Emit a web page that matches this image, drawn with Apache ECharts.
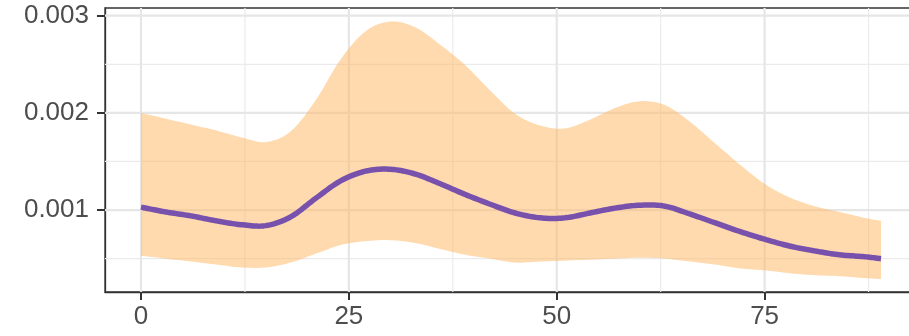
<!DOCTYPE html>
<html><head><meta charset="utf-8">
<script src="https://cdn.jsdelivr.net/npm/echarts@6/dist/echarts.min.js"></script>
<style>html,body{margin:0;padding:0;background:#fff}#c{width:909px;height:336px}</style>
</head><body><div id="c"></div><script>
const xs    = [0, 3, 6, 9, 12, 15, 18, 21, 24, 27, 30, 33, 36, 39, 42, 45, 48, 51, 54, 57, 60, 63, 66, 69, 72, 75, 78, 81, 84, 87, 89];
const upper = [0.00200,0.00194,0.00188,0.00182,0.00175,0.00170,0.00181,0.00213,0.00255,0.00284,0.00294,0.00288,0.00270,0.00249,0.00223,0.00199,0.00187,0.00184,0.00193,0.00205,0.00212,0.00208,0.00191,0.00169,0.00147,0.00127,0.00113,0.00104,0.00098,0.00092,0.00089];
const mean  = [0.00103,0.00098,0.00094,0.00089,0.00085,0.00084,0.00093,0.00112,0.00130,0.00140,0.00142,0.00137,0.00127,0.00116,0.00106,0.00097,0.00092,0.00092,0.00097,0.00102,0.00105,0.00104,0.00096,0.00087,0.00078,0.00070,0.00063,0.00058,0.00054,0.00052,0.00050];
const lower = [0.00053,0.00050,0.00047,0.00044,0.00041,0.00041,0.00046,0.00055,0.00064,0.00068,0.00069,0.00066,0.00060,0.00054,0.00050,0.00046,0.00047,0.00048,0.00049,0.00050,0.00051,0.00050,0.00047,0.00044,0.00040,0.00038,0.00035,0.00033,0.00032,0.00030,0.00029];
const xTicks = [0, 25, 50, 75];
const xMinor = [12.5, 37.5, 62.5, 87.5];
const yTicks = [0.001, 0.002, 0.003];
const yMinor = [0.0005, 0.0015, 0.0025];

const chart = echarts.init(document.getElementById('c'), null, {renderer: 'canvas'});
const font = 'Liberation Sans, Arial, sans-serif';

// Catmull-Rom sampling of pixel points (rendering only)
function spline(pts) {
  const out = [pts[0]];
  for (let i = 0; i < pts.length - 1; i++) {
    const p0 = pts[i - 1] || pts[i], p1 = pts[i], p2 = pts[i + 1], p3 = pts[i + 2] || pts[i + 1];
    for (let k = 1; k <= 12; k++) {
      const t = k / 12, t2 = t * t, t3 = t2 * t;
      const f = (a, b, c, d) => 0.5 * (2 * b + (-a + c) * t + (2 * a - 5 * b + 4 * c - d) * t2 + (-a + 3 * b - 3 * c + d) * t3);
      out.push([f(p0[0], p1[0], p2[0], p3[0]), f(p0[1], p1[1], p2[1], p3[1])]);
    }
  }
  return out;
}

function gridItem(api, params) {
  const cs = params.coordSys;
  const children = [];
  const add = (v, isX, w, c) => {
    if (isX) {
      const x = api.coord([v, 0.002])[0];
      children.push({type: 'line', shape: {x1: x, y1: cs.y, x2: x, y2: cs.y + cs.height}, style: {stroke: c, lineWidth: w}});
    } else {
      const y = api.coord([0, v])[1];
      children.push({type: 'line', shape: {x1: cs.x, y1: y, x2: cs.x + cs.width, y2: y}, style: {stroke: c, lineWidth: w}});
    }
  };
  xMinor.forEach(v => add(v, true, 1.2, '#EBEBEB'));
  yMinor.forEach(v => add(v, false, 1.2, '#EBEBEB'));
  xTicks.forEach(v => add(v, true, 2.2, '#E6E6E6'));
  yTicks.forEach(v => add(v, false, 2.2, '#E6E6E6'));
  return {type: 'group', children};
}

chart.setOption({
  animation: false,
  backgroundColor: '#ffffff',
  grid: {left: 105, right: -9, top: 8, bottom: 44, containLabel: false, outerBoundsMode: 'none',
         show: true, borderColor: '#333333', borderWidth: 1.3, backgroundColor: 'transparent'},
  xAxis: {
    type: 'value', min: -4.33, max: 93.45,
    splitLine: {show: false},
    axisLine: {show: true, onZero: false, lineStyle: {color: '#333333', width: 1.3}},
    axisTick: {show: true, length: 8, customValues: xTicks, lineStyle: {color: '#333333', width: 2}},
    axisLabel: {customValues: xTicks, margin: 12, fontSize: 26, color: '#4D4D4D', fontFamily: font}
  },
  yAxis: {
    type: 'value', min: 0.000157, max: 0.003079,
    splitLine: {show: false},
    axisLine: {show: true, onZero: false, lineStyle: {color: '#333333', width: 1.3}},
    axisTick: {show: true, length: 8, customValues: yTicks, lineStyle: {color: '#333333', width: 2}},
    axisLabel: {customValues: yTicks, margin: 16, fontSize: 26, color: '#4D4D4D', fontFamily: font,
                padding: [4, 0, 0, 0], formatter: v => v.toFixed(3)}
  },
  series: [
    {
      type: 'custom', silent: true, z: 1, clip: true,
      data: [[0, 0.002]],
      renderItem: (params, api) => gridItem(api, params)
    },
    {
      type: 'custom', silent: true, z: 2, clip: true,
      data: [[xs[0], lower[0]]],
      renderItem: (params, api) => {
        const up = spline(xs.map((x, i) => api.coord([x, upper[i]])));
        const lo = spline(xs.map((x, i) => api.coord([x, lower[i]])));
        return {type: 'polygon', shape: {points: up.concat(lo.reverse())},
                style: {fill: '#FDB863', opacity: 0.52}};
      }
    },
    {
      type: 'custom', silent: true, z: 3, clip: true,
      data: [[xs[0], mean[0]]],
      renderItem: (params, api) => {
        const pts = spline(xs.map((x, i) => api.coord([x, mean[i]])));
        return {type: 'polyline', shape: {points: pts},
                style: {stroke: '#7751AC', lineWidth: 5.5, fill: null, lineJoin: 'round', lineCap: 'butt'}};
      }
    }
  ]
});
</script></body></html>
